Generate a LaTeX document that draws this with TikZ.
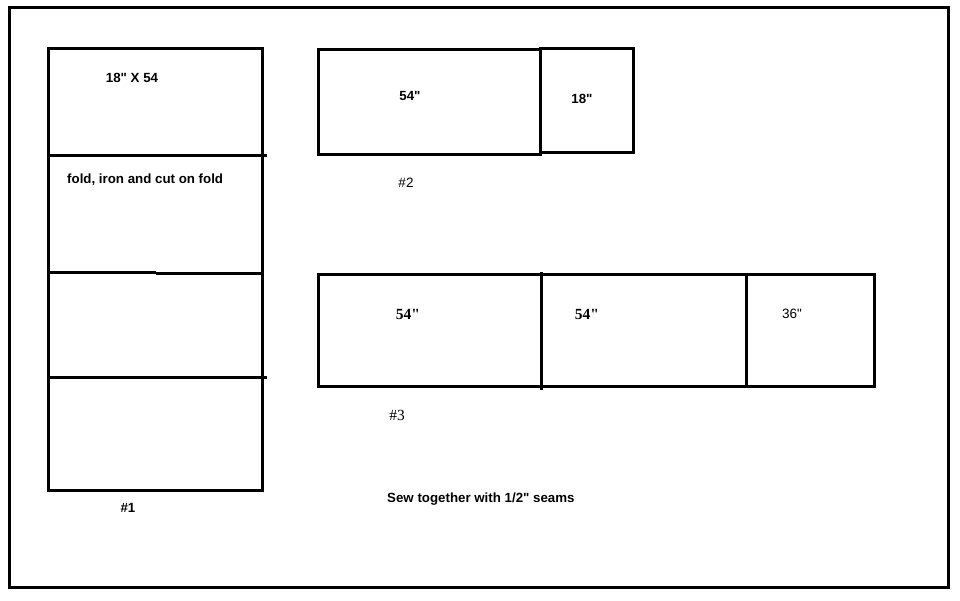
\documentclass[tikz,border=0pt]{standalone}
\usepackage{fontspec}
\setmainfont{Liberation Sans}[Ligatures=TeXOff]
\newfontfamily\tnr{Liberation Serif}[Ligatures=TeXOff]
\begin{document}
\begin{tikzpicture}[x=1pt,y=-1pt,
  edge/.style={line width=3pt,line cap=rect},
  lblb/.style={inner sep=0pt,anchor=base,font=\fontsize{13.3}{15}\selectfont\bfseries},
  lblr/.style={inner sep=0pt,anchor=base,font=\fontsize{13.5}{15}\selectfont},
  lblt/.style={inner sep=0pt,anchor=base,font=\fontsize{15.5}{17}\selectfont\tnr\bfseries}]
\useasboundingbox (0,0) rectangle (960,600);
\fill[white] (0,0) rectangle (960,600);
% outer frame
\draw[edge] (9.5,7.5) rectangle (948.5,587.5);
% piece #1
\draw[edge] (48.5,48.5) rectangle (262,490);
\draw[edge] (48.5,155.5) -- (265,155.5);
\draw[edge,line cap=butt] (48.5,272) -- (156,272);
\draw[edge,line cap=butt] (156,273) -- (262,273);
\draw[edge] (48.5,377.5) -- (265,377.5);
% piece #2
\draw[edge] (318,49) rectangle (540.5,154);
\draw[edge] (540.5,48) rectangle (633,152);
% piece #3
\draw[edge] (318,274.5) rectangle (874,386);
\draw[edge,line cap=butt] (541.5,272) -- (541.5,390);
\draw[edge] (746.5,274.5) -- (746.5,386);
% labels
\node[lblb] (t1) at (132,82) {18" X 54};
\node[lblb,anchor=base west] (t2) at (67,183) {fold, iron and cut on fold};
\node[lblb] (t3) at (410,100) {54"};
\node[lblb] (t4) at (582,103) {18"};
\node[lblr] (t5) at (406,187) {\#2};
\node[lblt] (t6) at (408,319) {54"};
\node[lblt] (t7) at (587,319) {54"};
\node[lblr] (t8) at (792,318) {36"};
\node[lblt,font=\fontsize{15.5}{17}\selectfont\tnr] (t9) at (397,420) {\#3};
\node[lblb] (t10) at (128,512) {\#1};
\node[lblb,anchor=base west] (t11) at (387,502) {Sew together with 1/2" seams};
\end{tikzpicture}
\end{document}
